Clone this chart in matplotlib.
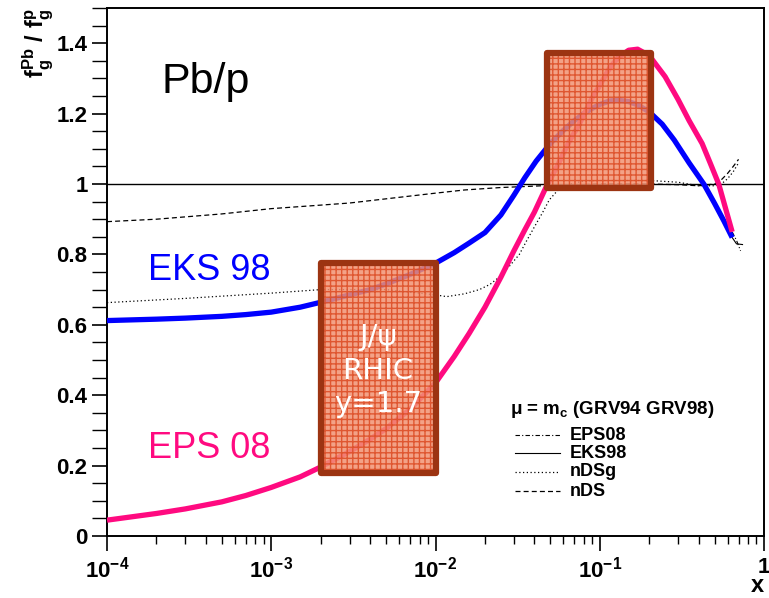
import numpy as np
import matplotlib
matplotlib.use("Agg")
import matplotlib.pyplot as plt
from matplotlib.patches import Rectangle
from matplotlib.lines import Line2D
from matplotlib.ticker import FixedLocator, FixedFormatter, MultipleLocator, LogLocator, NullFormatter

plt.rcParams['font.family'] = ['Liberation Sans', 'DejaVu Sans']
plt.rcParams['mathtext.fontset'] = 'custom'
plt.rcParams['mathtext.rm'] = 'Liberation Sans:bold'
plt.rcParams['mathtext.bf'] = 'Liberation Sans:bold'
plt.rcParams['mathtext.it'] = 'Liberation Sans:bold'

# ---------------- data ----------------
eks_x = [1e-4, 2e-4, 3e-4, 5e-4, 7e-4, 1e-3, 1.5e-3, 2e-3, 3e-3, 4e-3, 5e-3, 7e-3, 1e-2,
         1.3e-2, 1.6e-2, 2e-2, 2.5e-2, 3e-2, 3.5e-2, 4.1e-2, 5e-2, 6e-2, 7e-2, 8e-2, 9e-2,
         0.1, 0.115, 0.13, 0.15, 0.17, 0.2, 0.24, 0.284, 0.35, 0.43, 0.5, 0.57, 0.64]
eks_y = [0.612, 0.616, 0.619, 0.624, 0.629, 0.636, 0.65, 0.664, 0.685, 0.70, 0.716, 0.743, 0.775,
         0.805, 0.832, 0.862, 0.912, 0.968, 1.018, 1.065, 1.115, 1.152, 1.18, 1.2, 1.215,
         1.226, 1.236, 1.238, 1.234, 1.225, 1.205, 1.17, 1.125, 1.06, 1.0, 0.945, 0.895, 0.848]

eps_x = [1e-4, 2e-4, 3e-4, 5e-4, 7e-4, 1e-3, 1.5e-3, 2e-3, 3e-3, 4e-3, 5e-3, 7e-3, 1e-2,
         1.3e-2, 1.6e-2, 2e-2, 2.5e-2, 3e-2, 3.5e-2, 4e-2, 4.7e-2, 5.5e-2, 6.5e-2, 7.5e-2,
         9e-2, 0.1, 0.115, 0.13, 0.15, 0.17, 0.2, 0.25, 0.3, 0.35, 0.42, 0.47, 0.53, 0.58, 0.64]
eps_y = [0.045, 0.064, 0.077, 0.097, 0.115, 0.138, 0.168, 0.196, 0.24, 0.275, 0.305, 0.36, 0.435,
         0.51, 0.575, 0.65, 0.735, 0.81, 0.87, 0.92, 0.99, 1.05, 1.12, 1.17,
         1.245, 1.28, 1.33, 1.36, 1.38, 1.383, 1.365, 1.305, 1.24, 1.18, 1.115, 1.06, 1.0, 0.935, 0.864]

# thin black reference curves (legend entries)
eps08_bx = eps_x + [0.68, 0.72]
eps08_by = eps_y + [0.84, 0.81]
eks98_bx = eks_x + [0.68, 0.74]
eks98_by = eks_y + [0.83, 0.828]

ndsg_x = [1e-4, 3e-4, 1e-3, 2e-3, 5e-3, 1e-2, 1.17e-2, 1.5e-2, 1.85e-2, 2.15e-2, 2.45e-2,
          2.8e-2, 3.24e-2, 3.6e-2, 4e-2, 4.5e-2, 4.93e-2, 5.5e-2, 6e-2, 7e-2, 0.08, 0.1,
          0.2, 0.3, 0.4, 0.5, 0.55, 0.6, 0.65, 0.7]
ndsg_y = [0.663, 0.675, 0.69, 0.70, 0.70, 0.685, 0.68, 0.688, 0.70, 0.715, 0.736,
          0.765, 0.80, 0.84, 0.878, 0.92, 0.955, 0.98, 0.993, 1.003, 1.008, 1.01,
          1.01, 1.005, 0.995, 0.995, 1.0, 1.015, 1.035, 1.06]

nds_x = [1e-4, 2e-4, 5e-4, 1e-3, 2e-3, 3e-3, 1e-2, 1.5e-2, 2.5e-2, 4e-2, 0.05, 0.1, 0.2,
         0.3, 0.4, 0.5, 0.55, 0.6, 0.65, 0.7]
nds_y = [0.893, 0.9, 0.915, 0.93, 0.94, 0.946, 0.974, 0.983, 0.99, 0.994, 0.996, 1.0, 1.0,
         0.998, 0.995, 1.0, 1.012, 1.03, 1.05, 1.07]

boxes = [  # x0, x1, y0, y1
    (2.0e-3, 1.0e-2, 0.18, 0.775),
    (4.8e-2, 0.205, 0.99, 1.372),
]
box_text = "J/\u03c8\nRHIC\ny=1.7"

legend_labels = ['EPS08', 'EKS98', 'nDSg', 'nDS']
legend_title = '\u03bc = m$_\\mathrm{c}$ (GRV94 GRV98)'

xticks = [1e-4, 1e-3, 1e-2, 1e-1, 1]
xticklabels = [r'$\mathbf{10^{-4}}$', r'$\mathbf{10^{-3}}$', r'$\mathbf{10^{-2}}$',
               r'$\mathbf{10^{-1}}$', r'$\mathbf{1}$']
yticks = [0, 0.2, 0.4, 0.6, 0.8, 1.0, 1.2, 1.4]
yticklabels = ['0', '0.2', '0.4', '0.6', '0.8', '1', '1.2', '1.4']

BLUE = '#0000FF'
MAGENTA = '#FF0A80'
styles = {
    'EPS08': dict(lw=0.8, ls=(0, (4, 2, 1, 2))),
    'EKS98': dict(lw=0.8, ls='-'),
    'nDSg': dict(lw=0.9, ls=(0, (1, 2))),
    'nDS': dict(lw=0.9, ls=(0, (4, 2.5))),
}

# ---------------- figure ----------------
W, H = 769, 598
fig = plt.figure(figsize=(W / 100, H / 100), dpi=100)
ax = fig.add_axes([107 / W, 62 / H, (764 - 107) / W, (536 - 8) / H])
ax.set_xscale('log')
ax.set_xlim(1e-4, 1)
ax.set_ylim(0, 1.5)

ax.axhline(1.0, color='black', lw=1.0, zorder=2)

ax.plot(eps08_bx, eps08_by, color='black', zorder=2.5, **styles['EPS08'])
ax.plot(eks98_bx, eks98_by, color='black', zorder=2.5, **styles['EKS98'])
ax.plot(ndsg_x, ndsg_y, color='black', zorder=2.5, **styles['nDSg'])
ax.plot(nds_x, nds_y, color='black', zorder=2.5, **styles['nDS'])

ax.plot(eks_x, eks_y, color=BLUE, lw=3.8, solid_capstyle='butt', solid_joinstyle='round', zorder=3)
ax.plot(eps_x, eps_y, color=MAGENTA, lw=3.8, solid_capstyle='butt', solid_joinstyle='round', zorder=3)

for (x0, x1, y0, y1) in boxes:
    r = Rectangle((x0, y0), x1 - x0, y1 - y0, facecolor='#F29272', edgecolor='#DC4A22',
                  lw=0, hatch='+++', alpha=0.85, zorder=5)
    ax.add_patch(r)
    r2 = Rectangle((x0, y0), x1 - x0, y1 - y0, facecolor='none', edgecolor='#9C3412',
                   lw=4.5, joinstyle='round', zorder=6)
    ax.add_patch(r2)

bx0, bx1, by0, by1 = boxes[0]
ax.text(np.sqrt(bx0 * bx1), 0.47, box_text, color='white', fontsize=21,
        family=['DejaVu Sans'], ha='center', va='center', linespacing=1.25, zorder=7)

ax.text(2.16e-4, 1.258, 'Pb/p', fontsize=31, color='black', ha='left', va='baseline')
ax.text(1.77e-4, 0.727, 'EKS 98', fontsize=26, color=BLUE, ha='left', va='baseline')
ax.text(1.77e-4, 0.222, 'EPS 08', fontsize=26, color=MAGENTA, ha='left', va='baseline')

# ticks
ax.xaxis.set_major_locator(FixedLocator(xticks))
ax.xaxis.set_major_formatter(FixedFormatter(xticklabels))
ax.xaxis.set_minor_locator(LogLocator(base=10, subs=np.arange(2, 10), numticks=20))
ax.xaxis.set_minor_formatter(NullFormatter())
ax.yaxis.set_major_locator(FixedLocator(yticks))
ax.yaxis.set_major_formatter(FixedFormatter(yticklabels))
ax.yaxis.set_minor_locator(MultipleLocator(0.05))

ax.tick_params(axis='both', which='major', direction='out', length=11, width=1.2, labelsize=16)
ax.tick_params(axis='x', which='minor', direction='out', length=6, width=1.0)
ax.tick_params(axis='y', which='minor', direction='out', length=11, width=1.0)
ax.tick_params(axis='x', which='major', pad=4)
ax.tick_params(axis='y', which='major', pad=3)
for lab in ax.get_yticklabels():
    lab.set_fontweight('bold')
for s in ax.spines.values():
    s.set_linewidth(1.4)

fig.text(757 / W, 1 - 585 / H, 'x', fontsize=17, fontweight='bold', ha='center', va='center')
fig.text(38 / W, 1 - 8 / H, r'$\mathbf{f_g^{Pb}\ /\ f_g^{p}}$', fontsize=17,
         rotation=90, ha='center', va='top')

# legend (manual layout)
fig.text(510 / W, 1 - 410 / H, legend_title, fontsize=13.5, fontweight='bold',
         ha='left', va='center')
rows = [435, 453, 472, 491]
for lab, yy in zip(legend_labels, rows):
    fig.add_artist(Line2D([515 / W, 560 / W], [1 - yy / H, 1 - yy / H],
                          transform=fig.transFigure, color='black', **styles[lab]))
    fig.text(570 / W, 1 - yy / H, lab, fontsize=13, fontweight='bold', ha='left', va='center')

fig.savefig('out.png', dpi=100)
